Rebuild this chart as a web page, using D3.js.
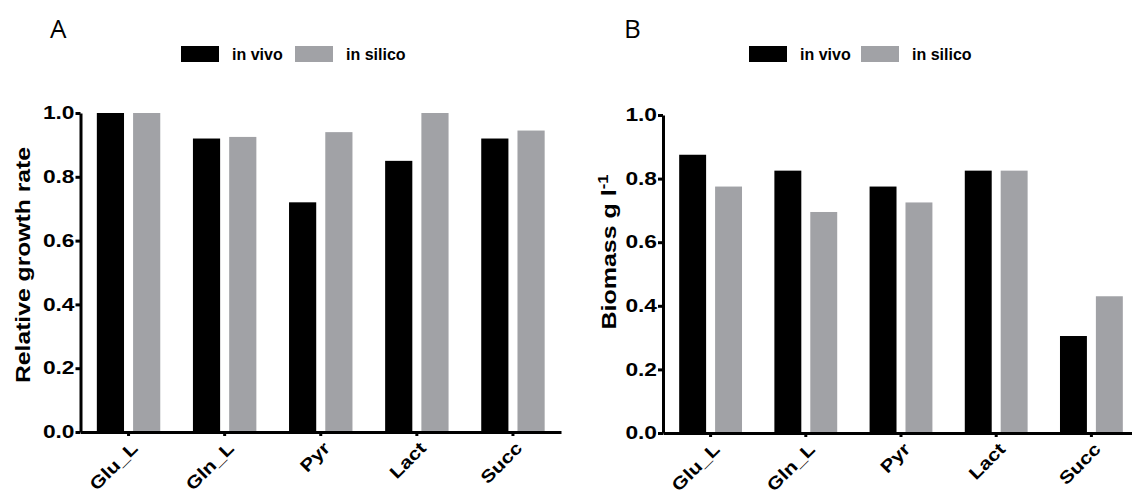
<!DOCTYPE html>
<html>
<head>
<meta charset="utf-8">
<script src="https://cdn.jsdelivr.net/npm/d3@7"></script>
<style>
  body { margin: 0; background: #fff; }
  svg { display: block; }
  text { font-family: "Liberation Sans", Arial, sans-serif; }
  .panel-label { font-family: "Open Sans", sans-serif; font-size: 26px; }
  .axis text { font-size: 17.5px; font-weight: bold; fill: #000; }
  .axis path, .axis line { stroke: #000; stroke-width: 3px; }
  .legend text { font-size: 16px; font-weight: bold; }
  .title { font-size: 21px; font-weight: bold; }
</style>
</head>
<body>
<svg width="1132" height="496"></svg>
<script>
var categories = ['Glu_L', 'Gln_L', 'Pyr', 'Lact', 'Succ'];
var seriesNames = ['in vivo', 'in silico'];
var colors = ['#000000', '#a1a2a6'];

// panel A: relative growth rate
var growthVivo = [1.0, 0.92, 0.72, 0.85, 0.92];
var growthSilico = [1.0, 0.925, 0.94, 1.0, 0.945];

// panel B: biomass g/l
var biomassVivo = [0.875, 0.825, 0.775, 0.825, 0.305];
var biomassSilico = [0.775, 0.695, 0.725, 0.825, 0.43];

var yTicks = [0, 0.2, 0.4, 0.6, 0.8, 1.0];

var svg = d3.select('svg');

function stretch(sel, k) {
    sel.each(function() {
        var len = this.getComputedTextLength();
        d3.select(this).attr('textLength', len * k).attr('lengthAdjust', 'spacingAndGlyphs');
    });
}

function drawPanel(opt) {
    var g = svg.append('g');

    var xScale = d3.scaleBand()
        .domain(categories)
        .range([opt.x0, opt.x1])
        .paddingInner(0.34)
        .paddingOuter(0.17);

    var subScale = d3.scaleBand()
        .domain(seriesNames)
        .range([0, xScale.bandwidth()])
        .paddingInner(0.25);

    var yScale = d3.scaleLinear()
        .domain([0, 1])
        .range([opt.yBottom, opt.yTop]);

    var rows = categories.map(function(c, i) {
        return {cat: c, values: [opt.vivo[i], opt.silico[i]]};
    });

    g.selectAll('g.group')
        .data(rows)
        .enter()
        .append('g')
        .attr('class', 'group')
        .attr('transform', function(d) { return 'translate(' + xScale(d.cat) + ',0)'; })
        .selectAll('rect')
        .data(function(d) { return d.values; })
        .enter()
        .append('rect')
        .attr('x', function(d, i) { return subScale(seriesNames[i]); })
        .attr('y', function(d) { return yScale(d); })
        .attr('width', subScale.bandwidth())
        .attr('height', function(d) { return yScale(0) - yScale(d); })
        .attr('fill', function(d, i) { return colors[i]; });

    var xAxis = g.append('g')
        .attr('class', 'axis')
        .attr('transform', 'translate(0,' + opt.yBottom + ')')
        .call(d3.axisBottom(xScale).tickSize(4).tickSizeOuter(0));
    xAxis.selectAll('text')
        .attr('x', 0)
        .attr('y', 0)
        .attr('dy', '0.35em')
        .attr('text-anchor', 'end')
        .attr('transform', 'translate(6,13) rotate(-45)');
    stretch(xAxis.selectAll('text'), 1.2);

    var yAxis = g.append('g')
        .attr('class', 'axis')
        .attr('transform', 'translate(' + opt.x0 + ',0)')
        .call(d3.axisLeft(yScale).tickValues(yTicks).tickFormat(d3.format('.1f'))
            .tickSize(5).tickPadding(1).tickSizeOuter(0));
    // the original export has wide, stretched labels
    stretch(yAxis.selectAll('text'), 1.3);

    var title = g.append('text')
        .attr('class', 'title')
        .attr('text-anchor', 'middle')
        .attr('transform', 'translate(' + opt.titleX + ',' + opt.titleY + ') rotate(-90)')
        .attr('textLength', opt.titleLen)
        .attr('lengthAdjust', 'spacingAndGlyphs');
    title.append('tspan').text(opt.title);
    if (opt.sup) {
        title.append('tspan').attr('dy', '-0.55em').style('font-size', '14px').text(opt.sup);
    }

    svg.append('text')
        .attr('class', 'panel-label')
        .attr('x', opt.labelX)
        .attr('y', 38)
        .text(opt.label);

    var legend = svg.append('g').attr('class', 'legend');
    seriesNames.forEach(function(name, i) {
        legend.append('rect')
            .attr('x', opt.legendX[i])
            .attr('y', 46)
            .attr('width', 38)
            .attr('height', 16)
            .attr('fill', colors[i]);
        legend.append('text')
            .attr('x', opt.legendX[i] + 51)
            .attr('y', 60)
            .text(name);
    });
}

drawPanel({
    x0: 80.5, x1: 561, yBottom: 432, yTop: 113,
    vivo: growthVivo, silico: growthSilico,
    title: 'Relative growth rate', titleX: 30, titleY: 265, titleLen: 236,
    label: 'A', labelX: 50, legendX: [181, 295]
});

drawPanel({
    x0: 663, x1: 1139, yBottom: 433, yTop: 115,
    vivo: biomassVivo, silico: biomassSilico,
    title: 'Biomass g l', sup: '-1', titleX: 616, titleY: 252, titleLen: 155,
    label: 'B', labelX: 624, legendX: [749, 861]
});
</script>
</body>
</html>
